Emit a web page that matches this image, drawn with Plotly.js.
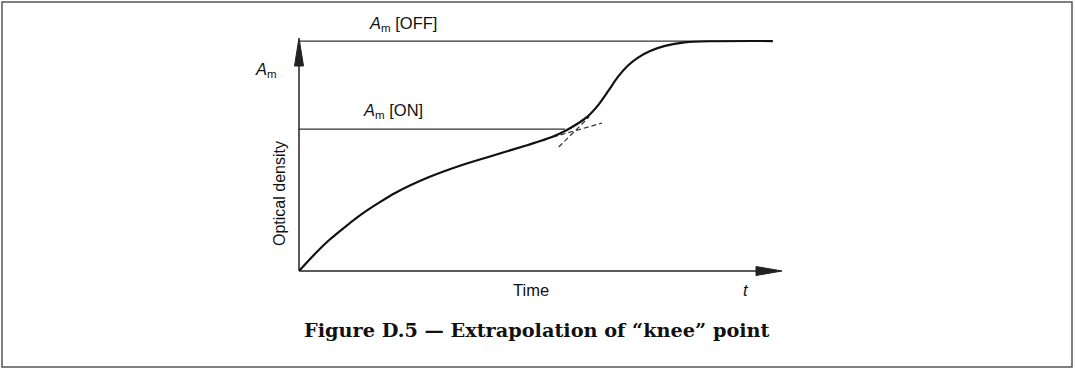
<!DOCTYPE html>
<html>
<head>
<meta charset="utf-8">
<script src="https://cdn.plot.ly/plotly-3.0.1.min.js"></script>
<style>html,body{margin:0;padding:0;background:#fff;}#chart{width:1075px;height:369px;}</style>
</head>
<body>
<div id="chart"></div>
<script>
// Data (arbitrary units: time 0-100, optical density 0-100)
const timeValues = [0, 3.1, 6.4, 9.8, 13.1, 16.4, 20.0, 26.8, 33.9, 40.7, 47.6, 52.6, 55.3, 57.8, 60.1, 62.2, 64.3, 66.3, 68.4, 70.5, 73.0, 76.1, 80.2, 85.4, 98.5];
const densityValues = [0, 6.9, 13.5, 19.3, 24.5, 29.0, 33.5, 40.1, 45.5, 49.8, 54.1, 57.5, 60.1, 63.1, 66.5, 71.2, 77.3, 83.3, 88.2, 91.6, 94.4, 96.6, 98.1, 98.6, 98.7];
const amOff = 98.7;
const amOn = 60.9;
const amOffLineX = [0, 98.5];
const amOnLineX = [0, 55.3];
const tangentLowX = [52.8, 63.0];
const tangentLowY = [57.5, 63.5];
const tangentHighX = [54.0, 60.3];
const tangentHighY = [53.2, 66.1];
const labels = {
  off: "<i>A</i><sub>m</sub> [OFF]",
  on: "<i>A</i><sub>m</sub> [ON]",
  am: "<i>A</i><sub>m</sub>",
  yTitle: "Optical density",
  xTitle: "Time",
  t: "<i>t</i>",
  caption: "<b>Figure D.5 — Extrapolation of “knee” point</b>"
};

const L = 299, R = 780, T = 38, B = 271;
const W = R - L, H = B - T;
const px = X => (X - L) / W;
const py = Y => (B - Y) / H;

const traces = [
  {x: amOffLineX, y: [amOff, amOff], mode: 'lines', line: {color: '#333', width: 1.3}, hoverinfo: 'skip'},
  {x: amOnLineX, y: [amOn, amOn], mode: 'lines', line: {color: '#333', width: 1.3}, hoverinfo: 'skip'},
  {x: tangentLowX, y: tangentLowY, mode: 'lines', line: {color: '#333', width: 1.2, dash: '5px,3px'}, hoverinfo: 'skip'},
  {x: tangentHighX, y: tangentHighY, mode: 'lines', line: {color: '#333', width: 1.2, dash: '5px,3px'}, hoverinfo: 'skip'},
  {x: timeValues, y: densityValues, mode: 'lines', line: {color: '#111', width: 2.2, shape: 'spline', smoothing: 0.8}, hoverinfo: 'skip'}
];

const font = {family: 'Liberation Sans, Arial, sans-serif', size: 16.5, color: '#111'};
const ann = (text, x, y, xa, extra) => Object.assign({
  text: text, xref: 'paper', yref: 'paper', x: px(x), y: py(y),
  xanchor: xa, yanchor: 'middle', showarrow: false, font: font
}, extra || {});

const layout = {
  width: 1075, height: 369,
  margin: {l: L, r: 1075 - R, t: T, b: 369 - B, pad: 0},
  paper_bgcolor: '#fff', plot_bgcolor: '#fff',
  showlegend: false,
  xaxis: {range: [0, 100], showgrid: false, zeroline: false, showline: false, showticklabels: false, ticks: '', fixedrange: true},
  yaxis: {range: [0, 100], showgrid: false, zeroline: false, showline: false, showticklabels: false, ticks: '', fixedrange: true},
  shapes: [
    // frame
    {type: 'rect', xref: 'paper', yref: 'paper', x0: px(2), x1: px(1072), y0: py(367), y1: py(2), line: {color: '#555', width: 1.5}, layer: 'below'},
    // axes
    {type: 'line', xref: 'paper', yref: 'paper', x0: 0, x1: px(760), y0: 0, y1: 0, line: {color: '#222', width: 1.5}},
    {type: 'line', xref: 'paper', yref: 'paper', x0: 0, x1: 0, y0: 0, y1: py(60), line: {color: '#222', width: 1.5}},
    // arrowheads
    {type: 'path', xref: 'paper', yref: 'paper',
     path: `M ${px(299)} ${py(38)} L ${px(303.5)} ${py(66)} L ${px(294.5)} ${py(66)} Z`,
     fillcolor: '#222', line: {color: '#222', width: 1}},
    {type: 'path', xref: 'paper', yref: 'paper',
     path: `M ${px(782)} ${py(271)} L ${px(756)} ${py(266.5)} L ${px(756)} ${py(275.5)} Z`,
     fillcolor: '#222', line: {color: '#222', width: 1}}
  ],
  annotations: [
    ann(labels.off, 367, 24, 'left'),
    ann(labels.am, 253, 70, 'left'),
    ann(labels.on, 361, 111, 'left'),
    ann(labels.yTitle, 279, 194, 'center', {textangle: -90, font: Object.assign({}, font, {size: 16})}),
    ann(labels.xTitle, 531, 290, 'center'),
    ann(labels.t, 746, 290, 'center'),
    ann(labels.caption, 537, 330, 'center', {font: {family: 'DejaVu Serif, serif', size: 19.3, color: '#111'}})
  ]
};

Plotly.newPlot('chart', traces, layout, {staticPlot: true, displayModeBar: false});
</script>
</body>
</html>
